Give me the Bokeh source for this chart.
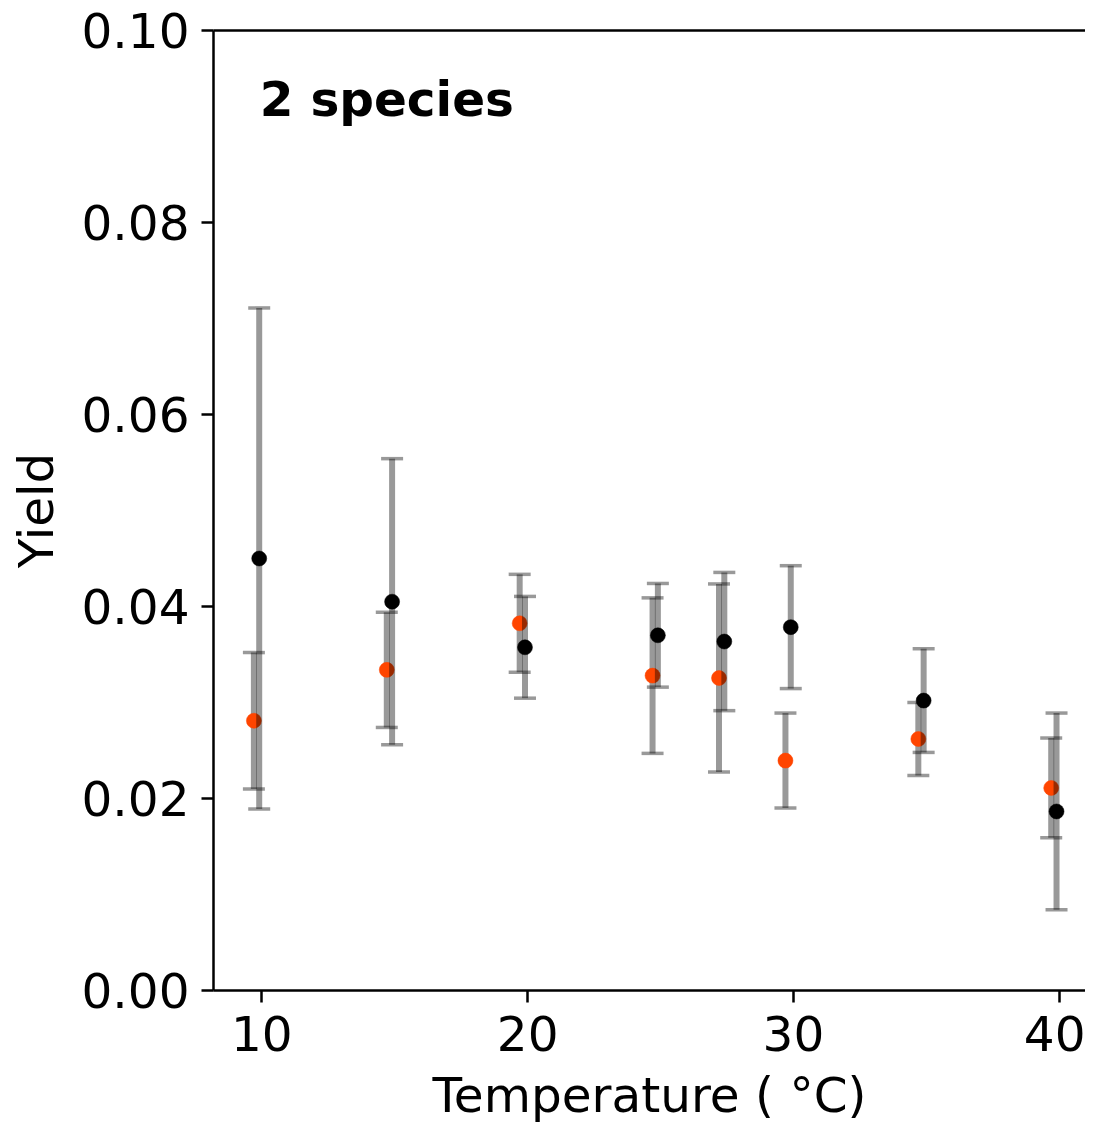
from bokeh.plotting import figure
from bokeh.models import Range1d, FixedTicker, LinearAxis, ColumnDataSource, Label, PrintfTickFormatter
from bokeh.embed import file_html
from bokeh.resources import INLINE

# ---- data ----
temps = [10, 15, 20, 25, 27.5, 30, 35, 40]
black_mean = [0.0450, 0.0405, 0.03575, 0.0370, 0.03635, 0.03785, 0.0302, 0.01865]
black_err = [0.0261, 0.0149, 0.0053, 0.0054, 0.0072, 0.0064, 0.0054, 0.01025]
orange_mean = [0.0281, 0.0334, 0.03825, 0.0328, 0.03255, 0.02395, 0.0262, 0.0211]
orange_err = [0.0071, 0.0060, 0.0051, 0.0081, 0.0098, 0.00495, 0.0038, 0.0052]
black_offset = -0.1
orange_offset = -0.3
x_ticks = [10, 20, 30, 40]
y_ticks = [0.0, 0.02, 0.04, 0.06, 0.08, 0.10]
panel_label = "2 species"

FONT = "DejaVu Sans"
FS = "48.5px"

p = figure(width=1085, height=1125, output_backend="svg", toolbar_location=None,
           x_range=Range1d(8.18, 40.99), y_range=Range1d(0.0, 0.10),
           min_border_left=213, min_border_right=0, min_border_top=30, min_border_bottom=131)
p.outline_line_color = None
p.xgrid.visible = False
p.ygrid.visible = False
p.background_fill_color = "white"
p.border_fill_color = "white"

for ax in (p.xaxis[0], p.yaxis[0]):
    ax.axis_line_width = 2.5
    ax.axis_line_color = "black"
    ax.major_tick_line_width = 2.5
    ax.major_tick_line_color = "black"
    ax.major_tick_out = 12
    ax.major_tick_in = 0
    ax.minor_tick_line_color = None
    ax.major_label_text_font = FONT
    ax.major_label_text_font_size = FS
    ax.major_label_text_color = "black"
    ax.axis_label_text_font = FONT
    ax.axis_label_text_font_size = FS
    ax.axis_label_text_font_style = "normal"
    ax.axis_label_text_color = "black"

p.xaxis[0].ticker = FixedTicker(ticks=x_ticks)
p.yaxis[0].ticker = FixedTicker(ticks=y_ticks)
p.yaxis[0].formatter = PrintfTickFormatter(format="%.2f")
p.xaxis[0].axis_label = "Temperature ( °C)"
p.yaxis[0].axis_label = "Yield"
p.xaxis[0].major_label_standoff = 13
p.xaxis[0].axis_label_standoff = 13
p.yaxis[0].major_label_standoff = 12
p.yaxis[0].axis_label_standoff = 15

# top spine
top = LinearAxis(ticker=FixedTicker(ticks=[]), major_label_text_font_size="0px",
                 axis_line_width=2.5, axis_line_color="black",
                 major_tick_line_color=None, minor_tick_line_color=None)
p.add_layout(top, "above")


def make_source(offset, mean, err):
    return ColumnDataSource(dict(
        x=[t + offset for t in temps],
        y=list(mean),
        lo=[m - e for m, e in zip(mean, err)],
        hi=[m + e for m, e in zip(mean, err)],
    ))


def draw(src, color):
    p.segment(x0="x", y0="lo", x1="x", y1="hi", source=src,
              line_color="black", line_alpha=0.4, line_width=6)
    p.scatter(x="x", y="lo", source=src, marker="dash", size=22,
              line_color="black", line_alpha=0.4, line_width=3.5)
    p.scatter(x="x", y="hi", source=src, marker="dash", size=22,
              line_color="black", line_alpha=0.4, line_width=3.5)
    p.scatter(x="x", y="y", source=src, marker="circle", size=15,
              fill_color=color, line_color=color, line_width=0.5)


draw(make_source(orange_offset, orange_mean, orange_err), "#FF4500")
draw(make_source(black_offset, black_mean, black_err), "black")

p.add_layout(Label(x=9.92, y=0.0929, text=panel_label, text_font=FONT,
                   text_font_size=FS, text_font_style="bold",
                   text_baseline="alphabetic", text_align="left", text_color="black"))

open("out.html", "w").write(file_html(p, INLINE))
